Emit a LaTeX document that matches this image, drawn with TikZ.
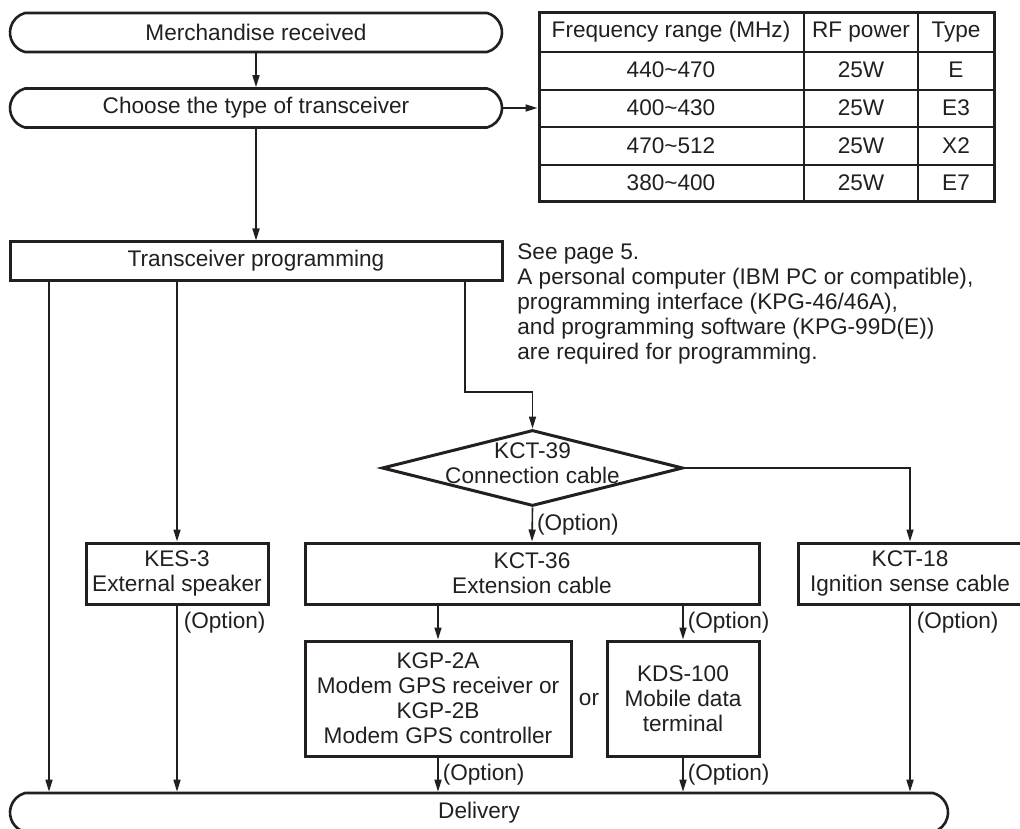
\documentclass[tikz,border=0pt]{standalone}
\usepackage{fontspec}
\setmainfont{Liberation Sans}
\usetikzlibrary{arrows.meta,shapes.geometric,shapes.misc,positioning,calc}
\definecolor{flowink}{RGB}{35,31,32}

\begin{document}
\begin{tikzpicture}[x=0.5pt, y=-0.5pt,
    every node/.style={font=\fontsize{11.3}{12.5}\selectfont, text=flowink},
    terminal/.style={rounded rectangle, rounded rectangle arc length=150, draw=flowink,
      line width=1.3pt, minimum height=19.5pt, inner sep=0pt},
    process/.style={rectangle, draw=flowink, line width=1.5pt, align=center, inner sep=0pt},
    decision/.style={diamond, draw=flowink, line width=1.5pt, inner sep=0pt,
      minimum width=150.5pt, minimum height=38pt},
    flow/.style={draw=flowink, line width=0.8pt, -{Triangle[length=6pt, width=3.5pt]}},
    rule/.style={draw=flowink, line width=0.9pt},
    optlabel/.style={right, inner sep=2pt}]
  % Page
  \fill[white] (0,0) rectangle (1020,828);
  \useasboundingbox (0,0) rectangle (1020,828);
  % Start and type choice
  \node[terminal, minimum width=246pt] (merch) at (256,32.5) {Merchandise received};
  \node[terminal, minimum width=246pt] (choose) at (256,108) {Choose the type of transceiver};
  % Type table
  \node[process, minimum width=227.5pt, minimum height=94.5pt] (spec) at (766.5,107.5) {};
  \foreach \yy in {52,90,127,165}
    \draw[rule] (539,\yy) -- (994,\yy);
  \foreach \xx in {804,918}
    \draw[rule] (\xx,13) -- (\xx,202);
  \foreach \fr/\pw/\ty [count=\i] in {{Frequency range (MHz)}/{RF power}/Type,
      440\textasciitilde470/25W/E, 400\textasciitilde430/25W/E3,
      470\textasciitilde512/25W/X2, 380\textasciitilde400/25W/E7} {
    \node (freq\i) at (671,{32+37.8*(\i-1)}) {\fr};
    \node (power\i) at (861,{32+37.8*(\i-1)}) {\pw};
    \node (type\i) at (956,{32+37.8*(\i-1)}) {\ty};
  }
  % Programming
  \node[process, minimum width=246pt, minimum height=19pt] (prog) at (256,261) {Transceiver programming};
  \node[align=left, anchor=north west, inner sep=0pt] (note) at (517,243)
    {See page 5.\\
     A personal computer (IBM PC or compatible),\\
     programming interface (KPG-46/46A),\\
     and programming software (KPG-99D(E))\\
     are required for programming.};
  % Options
  \node[decision] (kct39) at (532.5,468) {};
  \node[align=center, inner sep=0pt] (kct39txt) at (532.5,463) {KCT-39\\Connection cable};
  \node[process, minimum width=91pt, minimum height=30.5pt] (kes3) at (177,573.5) {KES-3\\External speaker};
  \node[process, minimum width=227pt, minimum height=30.5pt] (kct36) at (532,573.5) {KCT-36\\Extension cable};
  \node[process, minimum width=112pt, minimum height=30.5pt] (kct18) at (910,573.5) {KCT-18\\Ignition sense cable};
  \node[process, minimum width=133pt, minimum height=57.5pt] (kgp) at (438,698.5)
    {KGP-2A\\Modem GPS receiver or\\KGP-2B\\Modem GPS controller};
  \node[process, minimum width=76pt, minimum height=57.5pt] (kds) at (683,698.5)
    {KDS-100\\Mobile data\\terminal};
  \node (orword) at (589,700) {or};
  % End
  \node[terminal, minimum width=469pt] (deliver) at (479,812.5) {Delivery};
  % Connectors
  \coordinate (leftrun) at (49,0);
  \coordinate (jog) at (465,392);
  \draw[flow] (merch.south) -- (choose.north);
  \draw[flow] (choose.south) -- (prog.north);
  \draw[flow] (choose.east) -- (choose.east -| spec.west);
  \draw[flow] (prog.south -| leftrun) -- (deliver.north -| leftrun);
  \draw[flow] (prog.south -| kes3.north) -- (kes3.north);
  \draw[flow] (prog.south -| jog) -- (jog) -| (kct39.north);
  \draw[flow] (kct39.east) -| (kct18.north);
  \draw[flow] (kct39.south) -- node[optlabel] (opt1) {(Option)} (kct36.north);
  \draw[flow] (kct36.south -| kgp.north) -- (kgp.north);
  \draw[flow] (kct36.south -| kds.north) -- node[optlabel] (opt2) {(Option)} (kds.north);
  \draw[flow] (kes3.south) -- node[pos=0, below right, inner sep=3pt] (opt3) {(Option)}
    (kes3.south |- deliver.north);
  \draw[flow] (kct18.south) -- node[pos=0, below right, inner sep=3pt] (opt4) {(Option)}
    (kct18.south |- deliver.north);
  \draw[flow] (kgp.south) -- node[optlabel] (opt5) {(Option)} (kgp.south |- deliver.north);
  \draw[flow] (kds.south) -- node[optlabel] (opt6) {(Option)} (kds.south |- deliver.north);
\end{tikzpicture}
\end{document}
